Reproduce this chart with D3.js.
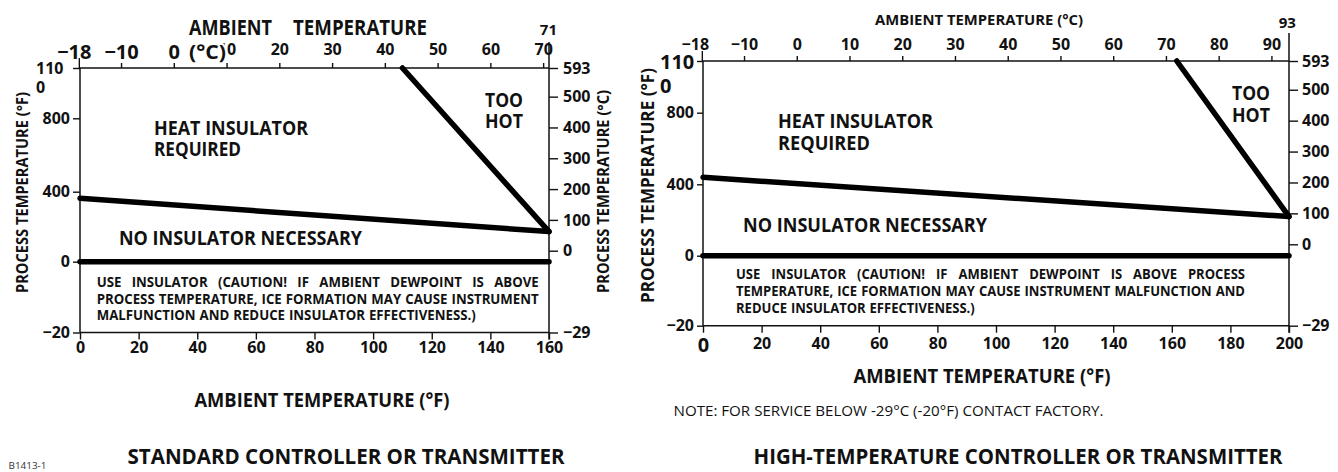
<!DOCTYPE html>
<html>
<head>
<meta charset="utf-8">
<script src="https://cdn.jsdelivr.net/npm/d3@7"></script>
<style>
  html, body { margin: 0; padding: 0; background: #fff; }
  svg { display: block; }
  text { font-family: "Open Sans", "Noto Sans", "DejaVu Sans", sans-serif; fill: #111; }
</style>
</head>
<body>
<svg id="chart" width="1338" height="472"></svg>
<script>
// ---------------- DATA ----------------
// Standard controller / transmitter
const stdAmbientFTicks = [0, 20, 40, 60, 80, 100, 120, 140, 160];
const stdAmbientCTicks = [-18, -10, 0, 10, 20, 30, 40, 50, 60, 70];
const stdAmbientCMax = 71;
const stdAmbientFRange = [0, 160];
const stdUpperLimit = [[110, 1100], [160, 172]];      // too hot boundary  (ambient F, process F)
const stdInsulatorLimit = [[0, 362], [160, 172]];     // heat insulator boundary
const stdFreezeLine = [[0, 0], [160, 0]];             // process temp 0 F

// High-temperature controller / transmitter
const hiAmbientFTicks = [0, 20, 40, 60, 80, 100, 120, 140, 160, 180, 200];
const hiAmbientCTicks = [-18, -10, 0, 10, 20, 30, 40, 50, 60, 70, 80, 90];
const hiAmbientCMax = 93;
const hiAmbientFRange = [0, 200];
const hiUpperLimit = [[161.7, 1100], [200, 219]];
const hiInsulatorLimit = [[0, 439], [200, 219]];
const hiFreezeLine = [[0, 0], [200, 0]];

// Shared process temperature axes
const processFTicks = [-20, 0, 400, 800, 1100];
const processFBreaks = [-20, 0, 400, 800, 1100];
const processCTicks = [-29, 0, 100, 200, 300, 400, 500, 593];
const processCBreaks = [-29, 0, 593];

// Texts
const stdNote = [
  "USE INSULATOR (CAUTION! IF AMBIENT DEWPOINT IS ABOVE",
  "PROCESS TEMPERATURE, ICE FORMATION MAY CAUSE INSTRUMENT",
  "MALFUNCTION AND REDUCE INSULATOR EFFECTIVENESS.)"
];
const hiNote = [
  "USE INSULATOR (CAUTION! IF AMBIENT DEWPOINT IS ABOVE PROCESS",
  "TEMPERATURE, ICE FORMATION MAY CAUSE INSTRUMENT MALFUNCTION AND",
  "REDUCE INSULATOR EFFECTIVENESS.)"
];

// ---------------- HELPERS ----------------
const svg = d3.select("#chart");
const fToC = f => (f - 32) * 5 / 9;

function label(g, txt, x, y, size, o = {}) {
  const t = g.append("text")
    .attr("x", x).attr("y", y)
    .attr("font-size", size)
    .attr("font-weight", o.weight || 700)
    .attr("text-anchor", o.anchor || "start")
    .text(txt);
  if (o.width) t.attr("textLength", o.width).attr("lengthAdjust", "spacingAndGlyphs");
  if (o.fill) t.style("fill", o.fill);
  return t;
}

function textBlock(g, lines, x, y0, lh, width, size, justified) {
  const gap0 = size * 0.3;
  const measured = lines.map(line => {
    const words = line.split(" ");
    const ws = words.map(w => {
      const t = g.append("text").attr("font-size", size).attr("font-weight", 700).text(w);
      const len = t.node().getComputedTextLength();
      t.remove();
      return len;
    });
    return { words, ws };
  });
  let k = 1;
  measured.forEach((m, i) => {
    if (!justified[i]) return;
    const tot = d3.sum(m.ws);
    const kk = (width - gap0 * (m.words.length - 1)) / tot;
    k = Math.min(k, kk);
  });
  measured.forEach((m, i) => {
    const ws = m.ws.map(w => w * k);
    const tot = d3.sum(ws);
    const gap = justified[i] ? (width - tot) / (m.words.length - 1) : gap0 * k;
    let cx = x;
    m.words.forEach((w, j) => {
      g.append("text").attr("x", cx).attr("y", y0 + i * lh)
        .attr("font-size", size).attr("font-weight", 700)
        .attr("textLength", ws[j]).attr("lengthAdjust", "spacingAndGlyphs")
        .text(w);
      cx += ws[j] + gap;
    });
  });
}

function styleAxis(g, size) {
  g.attr("font-family", null).attr("font-size", null);
  g.selectAll("text").attr("font-size", size).attr("font-weight", 700).style("fill", "#111");
  g.selectAll("line").attr("stroke", "#111").attr("stroke-width", 1.4);
  g.select(".domain").remove();
}

// ---------------- PANEL ----------------
function panel(cfg) {
  const g = svg.append("g");
  const x = d3.scaleLinear().domain(cfg.fRange).range(cfg.xRange);
  const xC = d3.scaleLinear().domain(cfg.fRange.map(fToC)).range(cfg.xRange);
  const y = d3.scaleLinear().domain(processFBreaks).range(cfg.yRange);
  const yC = d3.scaleLinear().domain(processCBreaks).range(cfg.yCRange);

  const x0 = x(cfg.fRange[0]), x1 = x(cfg.fRange[1]);
  const yTop = y(1100), yBot = y(-20);

  // frame lines
  const frame = g.append("g").attr("stroke", "#111").attr("stroke-width", 1.5);
  frame.append("line").attr("x1", x0).attr("x2", x1).attr("y1", yTop).attr("y2", yTop);
  frame.append("line").attr("x1", x0).attr("x2", x1).attr("y1", yBot).attr("y2", yBot);
  frame.append("line").attr("x1", x0).attr("x2", x0).attr("y1", yTop).attr("y2", yBot);
  frame.append("line").attr("x1", x1).attr("x2", x1).attr("y1", yTop - cfg.rightExt).attr("y2", yBot + 7);

  // bottom axis (F)
  const bAx = g.append("g").attr("transform", `translate(0,${yBot})`)
    .call(d3.axisBottom(x).tickValues(cfg.fTicks).tickSize(7).tickSizeOuter(0).tickPadding(cfg.bPad).tickFormat(d3.format("d")));
  styleAxis(bAx, 16);
  if (cfg.bigZero) bAx.selectAll(".tick text").filter(d => d === 0).attr("font-size", 20);

  // top axis (C)
  const tAx = g.append("g").attr("transform", `translate(0,${yTop})`)
    .call(d3.axisTop(xC).tickValues(cfg.cTicks).tickSize(5).tickSizeOuter(0).tickPadding(cfg.tPad).tickFormat(d3.format("d")));
  styleAxis(tAx, 16);
  tAx.selectAll(".tick").filter(d => d === cfg.cTicks[0]).select("line").attr("y2", -10);
  tAx.selectAll(".tick").filter(d => d === cfg.cTicks[0]).select("text").attr("dx", cfg.firstDx);
  if (cfg.bigC) {
    tAx.selectAll(".tick text").filter(d => cfg.bigC.includes(d)).attr("font-size", 20).attr("y", -9);
  }
  label(g, String(cfg.cMax), xC(cfg.cMax), cfg.cMaxY, 15, { anchor: "middle" });

  // left axis (process F)
  const lAx = g.append("g").attr("transform", `translate(${x0},0)`)
    .call(d3.axisLeft(y).tickValues(processFTicks).tickSize(cfg.lTick).tickSizeOuter(0).tickPadding(3).tickFormat(d3.format("d")));
  styleAxis(lAx, 16);
  const topTick = lAx.selectAll(".tick").filter(d => d === 1100).select("text");
  const s = String(1100);
  topTick.text(null).attr("text-anchor", "start").attr("x", cfg.topLabelX - x0).attr("dy", null)
    .attr("font-size", cfg.topLabelSize);
  topTick.append("tspan").attr("x", cfg.topLabelX - x0).attr("dy", "0.36em").text(s.slice(0, 3));
  topTick.append("tspan").attr("x", cfg.topLabelX - x0).attr("dy", "1.2em").text(s.slice(3));

  // right axis (process C)
  const rAx = g.append("g").attr("transform", `translate(${x1},0)`)
    .call(d3.axisRight(yC).tickValues(processCTicks).tickSize(9).tickSizeOuter(0).tickPadding(cfg.rPad).tickFormat(d3.format("d")));
  styleAxis(rAx, 16);

  // boundary lines
  const line = d3.line().x(d => x(d[0])).y(d => y(d[1]));
  [cfg.upper, cfg.insul, cfg.freeze].forEach(data => {
    g.append("path").datum(data).attr("d", line)
      .attr("fill", "none").attr("stroke", "#000").attr("stroke-width", 5.5)
      .attr("stroke-linecap", "round").attr("stroke-linejoin", "round");
  });

  return { g, x, y, xC, yC };
}

// ---------------- STANDARD ----------------
const std = panel({
  fRange: stdAmbientFRange, xRange: [80, 549],
  yRange: [332.5, 261.7, 191.7, 118.3, 68],
  yCRange: [332.5, 250.7, 68],
  fTicks: stdAmbientFTicks, cTicks: stdAmbientCTicks, cMax: stdAmbientCMax, cMaxY: 35,
  bPad: 2, tPad: 8, firstDx: -5, bigC: [-18, -10, 0],
  lTick: 7, topLabelX: 36, topLabelSize: 16, rightExt: 26, rPad: 5,
  upper: stdUpperLimit, insul: stdInsulatorLimit, freeze: stdFreezeLine
});
{
  const g = std.g;
  label(g, "AMBIENT", 189, 35, 21, { width: 83 });
  label(g, "TEMPERATURE", 293, 35, 21, { width: 134 });
  label(g, "(°C)", 189, 59, 20, { width: 37 })
    .attr("stroke", "#fff").attr("stroke-width", 4).attr("paint-order", "stroke");
  label(g, "HEAT INSULATOR", 154, 135, 19, { width: 154 });
  label(g, "REQUIRED", 154, 156, 19, { width: 87 });
  label(g, "TOO", 485, 107, 19, { width: 38 });
  label(g, "HOT", 485, 128, 19, { width: 38 });
  label(g, "NO INSULATOR NECESSARY", 119, 245, 19, { width: 243 });
  textBlock(g, stdNote, 96.7, 287, 16.5, 442, 13.5, [true, true, false]);
  label(g, "PROCESS TEMPERATURE (°F)", 0, 0, 16, { anchor: "middle", width: 201 })
    .attr("dy", "0.35em").attr("transform", "translate(22,192.5) rotate(-90)");
  label(g, "PROCESS TEMPERATURE (°C)", 0, 0, 16, { anchor: "middle", width: 203 })
    .attr("dy", "0.35em").attr("transform", "translate(603,191.5) rotate(-90)");
  label(g, "AMBIENT TEMPERATURE (°F)", 322, 407, 19, { anchor: "middle", width: 255 });
  label(g, "STANDARD CONTROLLER OR TRANSMITTER", 346, 464, 21, { anchor: "middle", width: 437 });
  label(g, "B1413-1", 8.5, 469, 9, { weight: 400, width: 38, fill: "#333" });
}

// ---------------- HIGH TEMPERATURE ----------------
const hi = panel({
  fRange: hiAmbientFRange, xRange: [703, 1289],
  yRange: [325.7, 255.7, 184.3, 112.7, 61],
  yCRange: [325.7, 244.3, 61],
  fTicks: hiAmbientFTicks, cTicks: hiAmbientCTicks, cMax: hiAmbientCMax, cMaxY: 28,
  bPad: 5, tPad: 6, firstDx: -7, bigC: null, bigZero: true,
  lTick: 6, topLabelX: 660, topLabelSize: 20, rightExt: 28, rPad: 4,
  upper: hiUpperLimit, insul: hiInsulatorLimit, freeze: hiFreezeLine
});
{
  const g = hi.g;
  label(g, "AMBIENT TEMPERATURE (°C)", 875, 25, 15, { width: 208 });
  label(g, "HEAT INSULATOR", 778, 128, 19, { width: 155 });
  label(g, "REQUIRED", 778, 150, 19, { width: 92 });
  label(g, "TOO", 1232, 100, 19, { width: 38 });
  label(g, "HOT", 1232, 122, 19, { width: 38 });
  label(g, "NO INSULATOR NECESSARY", 743, 232, 19, { width: 244 });
  textBlock(g, hiNote, 736, 279, 17, 509, 13.5, [true, true, false]);
  label(g, "PROCESS TEMPERATURE (°F)", 0, 0, 17, { anchor: "middle", width: 235 })
    .attr("dy", "0.35em").attr("transform", "translate(648,185.5) rotate(-90)");
  label(g, "AMBIENT TEMPERATURE (°F)", 982, 383, 19, { anchor: "middle", width: 257 });
  label(g, "NOTE: FOR SERVICE BELOW -29°C (-20°F) CONTACT FACTORY.", 673.5, 416, 14, { weight: 400, width: 430 });
  label(g, "HIGH-TEMPERATURE CONTROLLER OR TRANSMITTER", 1018, 464, 21, { anchor: "middle", width: 529 });
}
</script>
</body>
</html>
